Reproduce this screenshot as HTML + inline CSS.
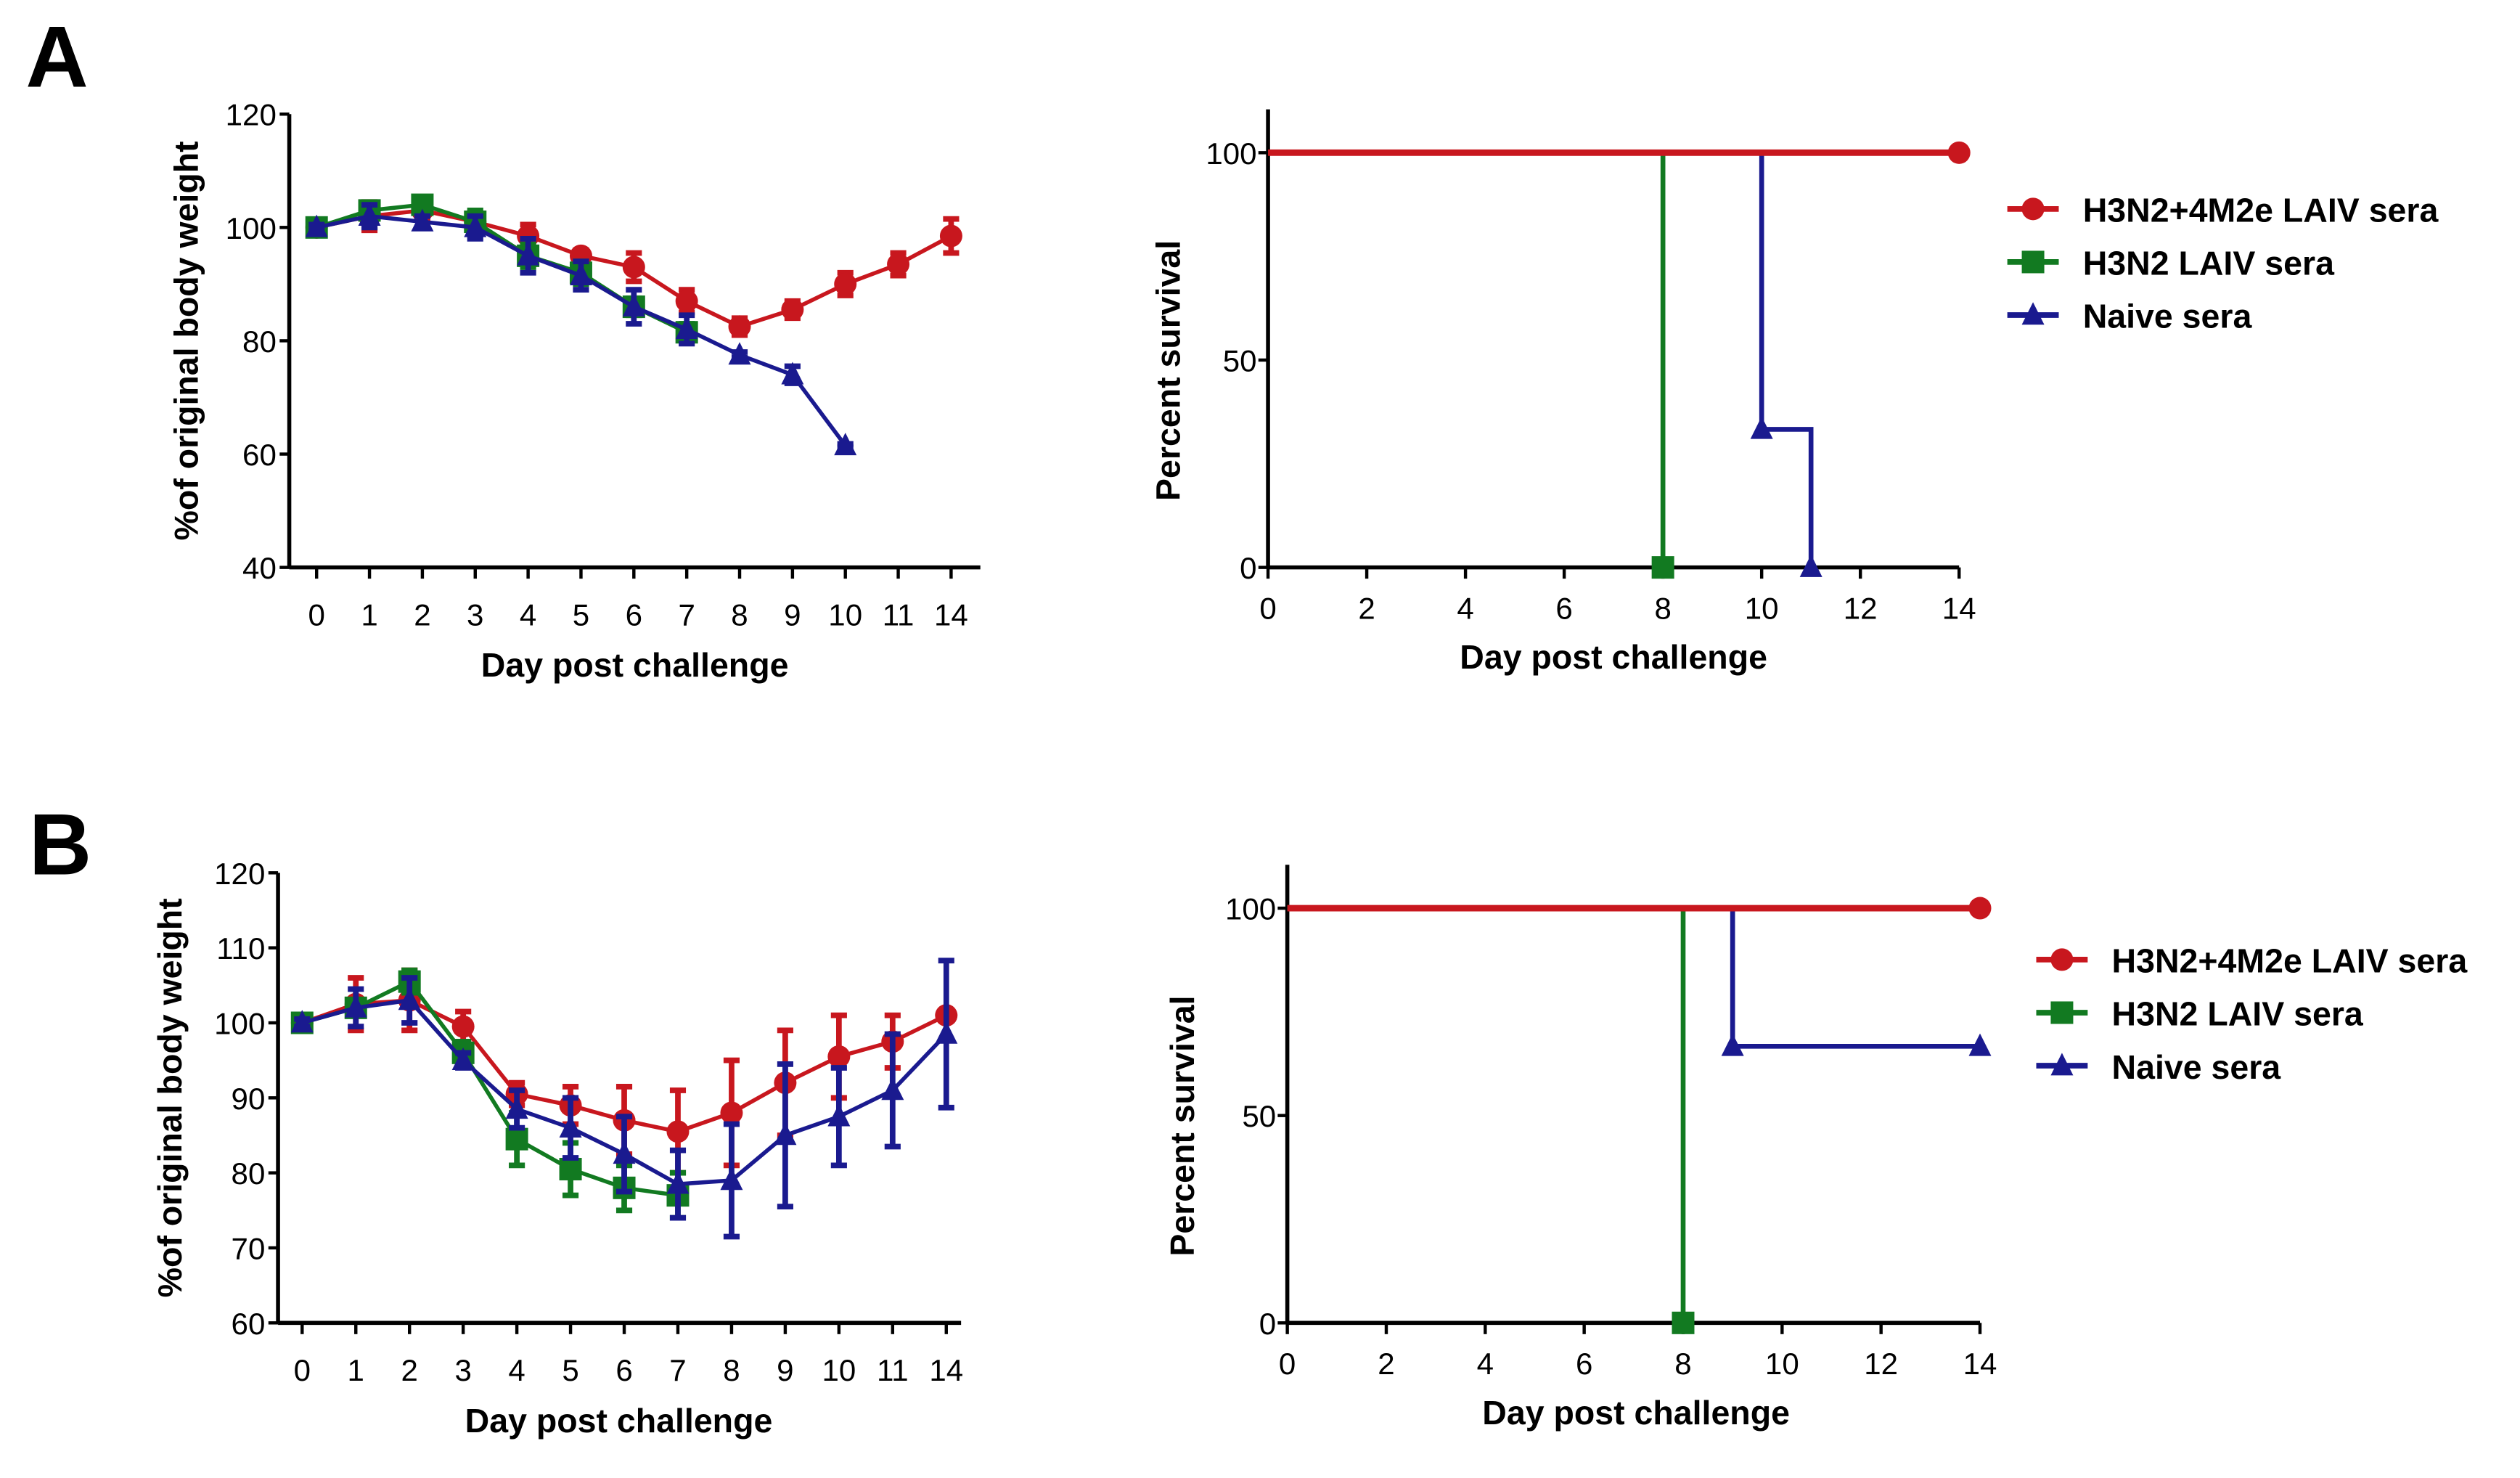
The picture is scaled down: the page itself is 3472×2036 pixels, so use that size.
<!DOCTYPE html>
<html><head><meta charset="utf-8"><style>
html,body{margin:0;padding:0;background:#fff;}
svg{display:block;font-family:"Liberation Sans",sans-serif;}
</style></head><body>
<svg id="fig" width="3472" height="2036" viewBox="0 0 1568 919.5" preserveAspectRatio="none" xmlns="http://www.w3.org/2000/svg">
<text x="16" y="54" font-size="54" font-weight="bold">A</text>
<text x="18" y="544" font-size="54" font-weight="bold">B</text>
</svg>
<script>
const weightDays = ['0','1','2','3','4','5','6','7','8','9','10','11','14'];
const aRed = [100,102,103,101,98.5,95,93,87,82.5,85.5,90,93.5,98.5];
const aRedErr = [1,2.5,1.5,1.5,2,1,2.5,2,1.5,1.5,2,2,3];
const aGreen = [100,103,104,101,95,92,86,81.5];
const aGreenErr = [0.5,1,1,2,2,2,1.5,1.5];
const aBlue = [100,102,101,100,95,91.5,86,82,77.5,74,61.5];
const aBlueErr = [0.5,2,1,2,3,2.5,3,2.5,0.5,1.5,0.3];
const bRed = [100,102.5,103,99.5,90.5,89,87,85.5,88,92,95.5,97.5,101];
const bRedErr = [0.5,3.5,4,2,1.5,2.5,4.5,5.5,7,7,5.5,3.5,0.5];
const bGreen = [100,102,105.5,96,84.5,80.5,78,77];
const bGreenErr = [0.5,1,1.5,1.5,3.5,3.5,3,3];
const bBlue = [100,102,103,95,88.5,86,82.5,78.5,79,85,87.5,91,98.5];
const bBlueErr = [0.5,2.5,3,1,2.5,4,5,4.5,7.5,9.5,6.5,7.5,9.8];
const aYTicks = [40,60,80,100,120];
const bYTicks = [60,70,80,90,100,110,120];
const survTicksX = [0,2,4,6,8,10,12,14];
const survTicksY = [0,50,100];
const survRedA = [[0,100],[14,100]];
const survGreenA = [[0,100],[8,100],[8,0]];
const survBlueA = [[0,100],[10,100],[10,33.3],[11,33.3],[11,0]];
const survRedAMarks = [[14,100]];
const survGreenAMarks = [[8,0]];
const survBlueAMarks = [[10,33.3],[11,0]];
const survRedB = [[0,100],[14,100]];
const survGreenB = [[0,100],[8,100],[8,0]];
const survBlueB = [[0,100],[9,100],[9,66.7],[14,66.7]];
const survRedBMarks = [[14,100]];
const survGreenBMarks = [[8,0]];
const survBlueBMarks = [[9,66.7],[14,66.7]];
const legendLabels = ['H3N2+4M2e LAIV sera','H3N2 LAIV sera','Naive sera'];

const NS='http://www.w3.org/2000/svg';
const svg=document.getElementById('fig');
const RED='#c8171e',GREEN='#127a21',BLUE='#1a1a8f';
function el(tag,attrs,parent){const e=document.createElementNS(NS,tag);for(const k in attrs)e.setAttribute(k,attrs[k]);(parent||svg).appendChild(e);return e;}
function txt(s,attrs,parent){const e=el('text',attrs,parent);e.textContent=s;return e;}
function marker(g,shape,x,y,c,r){
  r=r||7;
  if(shape==='circle')return el('circle',{cx:x,cy:y,r:r,fill:c},g);
  if(shape==='square')return el('rect',{x:x-r,y:y-r,width:2*r,height:2*r,fill:c},g);
  return el('polygon',{points:`${x},${y-r-1} ${x-r},${y+r-1} ${x+r},${y+r-1}`,fill:c},g);
}
function weightChart(o){
  const g=el('g',{});
  
  
  const ymin=o.yticks[0],ymax=o.yticks[o.yticks.length-1];
  const ys=v=>o.y0-(v-ymin)/(ymax-ymin)*(o.y0-o.y1);
  const xs=i=>o.x0+i*o.dx;
  el('line',{x1:o.ax,y1:o.y1,x2:o.ax,y2:o.y0,stroke:'#000','stroke-width':2.5},g);
  el('line',{x1:o.ax,y1:o.y0,x2:o.xend,y2:o.y0,stroke:'#000','stroke-width':2.5},g);
  o.yticks.forEach(t=>{
    el('line',{x1:o.ax-6,y1:ys(t),x2:o.ax,y2:ys(t),stroke:'#000','stroke-width':2},g);
    const l=txt(String(t),{x:o.ax-8,y:ys(t)+7,'font-size':19,'text-anchor':'end'},g);
    
    
  });
  weightDays.forEach((d,i)=>{
    el('line',{x1:xs(i),y1:o.y0,x2:xs(i),y2:o.y0+7,stroke:'#000','stroke-width':2},g);
    const l=txt(d,{x:xs(i),y:o.y0+36,'font-size':19,'text-anchor':'middle'},g);
    
    
  });
  const xt=txt('Day post challenge',{x:o.xtX,y:o.y0+68,'font-size':21,'font-weight':'bold','text-anchor':'middle'},g);
  
  
  const yt=txt('%of original body weight',{x:0,y:0,'font-size':21,'font-weight':'bold','text-anchor':'middle',transform:`translate(${o.ytX},${(o.y0+o.y1)/2}) rotate(-90)`},g);
  
  
  o.series.forEach(s=>{
    const sg=el('g',{},g);
    
    
    s.vals.forEach((v,i)=>{
      const e=s.err[i];
      el('line',{x1:xs(i),y1:ys(v-e),x2:xs(i),y2:ys(v+e),stroke:s.c,'stroke-width':3.5},sg);
      el('line',{x1:xs(i)-5,y1:ys(v+e),x2:xs(i)+5,y2:ys(v+e),stroke:s.c,'stroke-width':3.5},sg);
      el('line',{x1:xs(i)-5,y1:ys(v-e),x2:xs(i)+5,y2:ys(v-e),stroke:s.c,'stroke-width':3.5},sg);
    });
    el('polyline',{points:s.vals.map((v,i)=>xs(i)+','+ys(v)).join(' '),fill:'none',stroke:s.c,'stroke-width':2.5},sg);
    s.vals.forEach((v,i)=>marker(sg,s.shape,xs(i),ys(v),s.c,7));
  });
}
function survChart(o){
  const g=el('g',{});
  
  
  const xs=d=>o.ax+d/14*(o.xend-o.ax);
  const ys=v=>o.y0-v/100*(o.y0-o.y100);
  el('line',{x1:o.ax,y1:o.ytop,x2:o.ax,y2:o.y0,stroke:'#000','stroke-width':2.5},g);
  el('line',{x1:o.ax,y1:o.y0,x2:o.xend,y2:o.y0,stroke:'#000','stroke-width':2.5},g);
  survTicksY.forEach(t=>{
    el('line',{x1:o.ax-6,y1:ys(t),x2:o.ax,y2:ys(t),stroke:'#000','stroke-width':2},g);
    const l=txt(String(t),{x:o.ax-7,y:ys(t)+7,'font-size':19,'text-anchor':'end'},g);
    
    
  });
  survTicksX.forEach(t=>{
    el('line',{x1:xs(t),y1:o.y0,x2:xs(t),y2:o.y0+7,stroke:'#000','stroke-width':2},g);
    const l=txt(String(t),{x:xs(t),y:o.y0+32,'font-size':19,'text-anchor':'middle'},g);
    
    
  });
  const xt=txt('Day post challenge',{x:o.xtX,y:o.y0+63,'font-size':21,'font-weight':'bold','text-anchor':'middle'},g);
  
  
  const yt=txt('Percent survival',{x:0,y:0,'font-size':21,'font-weight':'bold','text-anchor':'middle',transform:`translate(${o.ytX},${(o.y0+o.ytop)/2+20}) rotate(-90)`},g);
  
  
  o.series.forEach(s=>{
    const sg=el('g',{},g);
    
    
    el('polyline',{points:s.pts.map(p=>xs(p[0])+','+ys(p[1])).join(' '),fill:'none',stroke:s.c,'stroke-width':s.w},sg);
    s.marks.forEach(p=>marker(sg,s.shape,xs(p[0]),ys(p[1]),s.c,7));
  });
  const shapes=['circle','square','triangle'],cols=[RED,GREEN,BLUE];
  legendLabels.forEach((lab,i)=>{
    const lg=el('g',{},g);
    
    
    const y=o.legY+i*33;
    el('line',{x1:o.legX-16,y1:y,x2:o.legX+16,y2:y,stroke:cols[i],'stroke-width':3.5},lg);
    marker(lg,shapes[i],o.legX,y,cols[i],7);
    txt(lab,{x:o.legX+31,y:y+8,'font-size':21,'font-weight':'bold'},lg);
  });
}
weightChart({name:'weight-chart-a',ax:180,y0:353,y1:71,xend:610,x0:197,dx:32.9,yticks:aYTicks,xtX:395,ytX:123,
  series:[{name:'series-h3n2-4m2e',vals:aRed,err:aRedErr,c:RED,shape:'circle'},
          {name:'series-h3n2',vals:aGreen,err:aGreenErr,c:GREEN,shape:'square'},
          {name:'series-naive',vals:aBlue,err:aBlueErr,c:BLUE,shape:'triangle'}]});
weightChart({name:'weight-chart-b',ax:173,y0:823,y1:543,xend:598,x0:188,dx:33.4,yticks:bYTicks,xtX:385,ytX:113,
  series:[{name:'series-h3n2-4m2e',vals:bRed,err:bRedErr,c:RED,shape:'circle'},
          {name:'series-h3n2',vals:bGreen,err:bGreenErr,c:GREEN,shape:'square'},
          {name:'series-naive',vals:bBlue,err:bBlueErr,c:BLUE,shape:'triangle'}]});
survChart({name:'survival-chart-a',ax:789,xend:1219,y0:353,y100:95,ytop:68,xtX:1004,ytX:734,legX:1265,legY:130,
  series:[{name:'series-naive',pts:survBlueA,marks:survBlueAMarks,c:BLUE,shape:'triangle',w:3},
          {name:'series-h3n2',pts:survGreenA,marks:survGreenAMarks,c:GREEN,shape:'square',w:3},
          {name:'series-h3n2-4m2e',pts:survRedA,marks:survRedAMarks,c:RED,shape:'circle',w:4}]});
survChart({name:'survival-chart-b',ax:801,xend:1232,y0:823,y100:565,ytop:538,xtX:1018,ytX:743,legX:1283,legY:597,
  series:[{name:'series-naive',pts:survBlueB,marks:survBlueBMarks,c:BLUE,shape:'triangle',w:3},
          {name:'series-h3n2',pts:survGreenB,marks:survGreenBMarks,c:GREEN,shape:'square',w:3},
          {name:'series-h3n2-4m2e',pts:survRedB,marks:survRedBMarks,c:RED,shape:'circle',w:4}]});
</script>
</body></html>
